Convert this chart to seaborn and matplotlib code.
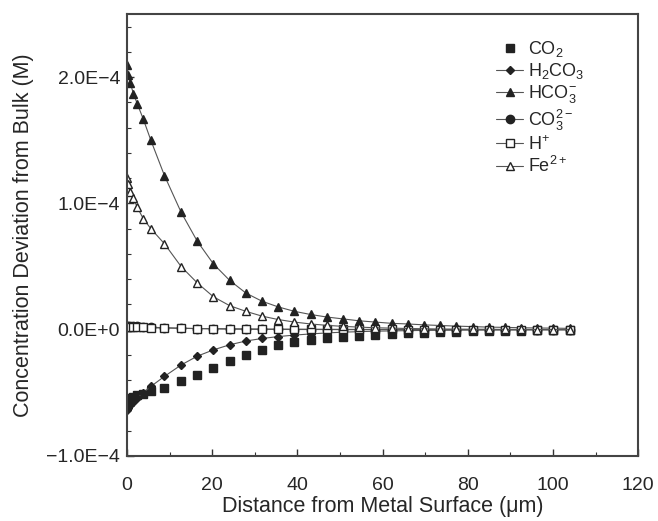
import matplotlib
matplotlib.use("Agg")
import matplotlib.pyplot as plt
import numpy as np
import pandas as pd
import seaborn as sns
from matplotlib.ticker import FixedLocator, MultipleLocator, FuncFormatter

# distance from metal surface (um)
distance = [0, 0.3, 0.8, 1.5, 2.4, 3.8, 5.6, 8.8, 12.7, 16.5, 20.3, 24.1, 27.9,
            31.7, 35.5, 39.3, 43.1, 46.9, 50.7, 54.5, 58.3, 62.1, 65.9, 69.7,
            73.5, 77.3, 81.1, 84.9, 88.7, 92.5, 96.3, 100.1, 103.9]

# concentration deviation from bulk, in units of 1e-4 M
co2 = [-0.55, -0.55, -0.54, -0.53, -0.52, -0.51, -0.49, -0.46, -0.41, -0.36,
       -0.30, -0.25, -0.20, -0.16, -0.12, -0.095, -0.08, -0.068, -0.058, -0.048,
       -0.04, -0.034, -0.028, -0.023, -0.019, -0.016, -0.013, -0.011, -0.009,
       -0.007, -0.006, -0.005, -0.004]
h2co3 = [-0.64, -0.62, -0.60, -0.57, -0.54, -0.50, -0.45, -0.37, -0.28, -0.21,
         -0.16, -0.12, -0.09, -0.07, -0.055, -0.043, -0.034, -0.026, -0.02,
         -0.016, -0.012, -0.01, -0.008, -0.006, -0.005, -0.004, -0.003, -0.003,
         -0.002, -0.002, -0.001, -0.001, -0.001]
hco3 = [2.10, 2.02, 1.95, 1.87, 1.79, 1.67, 1.50, 1.22, 0.93, 0.70, 0.52, 0.39,
        0.29, 0.225, 0.18, 0.145, 0.12, 0.10, 0.085, 0.07, 0.06, 0.05, 0.045,
        0.038, 0.033, 0.028, 0.024, 0.02, 0.018, 0.015, 0.013, 0.012, 0.01]
co3 = [0.03, 0.03, 0.028, 0.027, 0.025, 0.022, 0.019, 0.015, 0.011, 0.008,
       0.006, 0.004, 0.003, 0.002, 0.002, 0.001, 0.001, 0.001, 0.0, 0.0, 0.0,
       0.0, 0.0, 0.0, 0.0, 0.0, 0.0, 0.0, 0.0, 0.0, 0.0, 0.0, 0.0]
h_ion = [0.02, 0.02, 0.02, 0.019, 0.018, 0.017, 0.015, 0.013, 0.011, 0.009,
         0.008, 0.007, 0.006, 0.005, 0.004, 0.004, 0.003, 0.003, 0.002, 0.002,
         0.002, 0.002, 0.001, 0.001, 0.001, 0.001, 0.001, 0.001, 0.0, 0.0, 0.0,
         0.0, 0.0]
fe = [1.20, 1.15, 1.09, 1.04, 0.97, 0.88, 0.80, 0.68, 0.50, 0.37, 0.26, 0.19,
      0.145, 0.107, 0.08, 0.06, 0.045, 0.034, 0.026, 0.02, 0.015, 0.012, 0.009,
      0.007, 0.005, 0.004, 0.003, 0.003, 0.002, 0.002, 0.001, 0.001, 0.001]

labels = [r"CO$_2$", r"H$_2$CO$_3$", r"HCO$_3^{-}$", r"CO$_3^{2-}$",
          r"H$^{+}$", r"Fe$^{2+}$"]
series = [co2, h2co3, hco3, co3, h_ion, fe]

sns.set_theme(style="ticks")
plt.rcParams["font.family"] = ["Liberation Sans", "DejaVu Sans"]
plt.rcParams["mathtext.fontset"] = "custom"
plt.rcParams["mathtext.rm"] = "Liberation Sans"
plt.rcParams["mathtext.it"] = "Liberation Sans:italic"

df = pd.concat(
    [pd.DataFrame({"x": distance, "y": np.array(v) * 1e-4, "species": lab})
     for lab, v in zip(labels, series)],
    ignore_index=True,
)

styles = {
    labels[0]: dict(marker="s", mfc="#222222", ls="none"),
    labels[1]: dict(marker="D", mfc="#222222", ms=4.5),
    labels[2]: dict(marker="^", mfc="#222222"),
    labels[3]: dict(marker="o", mfc="#222222"),
    labels[4]: dict(marker="s", mfc="white"),
    labels[5]: dict(marker="^", mfc="white"),
}

fig = plt.figure(figsize=(6.58, 5.21), dpi=100)
ax = fig.add_axes([0.193, 0.125, 0.777, 0.848])

for lab in labels:
    kw = dict(ms=6, mec="#222222", color="#555555", lw=0.8, mew=1.0)
    kw.update(styles[lab])
    sub = df[df["species"] == lab]
    sns.lineplot(data=sub, x="x", y="y", ax=ax, label=lab, estimator=None,
                 sort=False, **kw)

ax.set_xlim(0, 120)
ax.set_ylim(-1e-4, 2.5e-4)
ax.xaxis.set_major_locator(MultipleLocator(20))
ax.xaxis.set_minor_locator(MultipleLocator(10))
ax.yaxis.set_major_locator(FixedLocator([-1e-4, 0, 1e-4, 2e-4]))
ax.yaxis.set_minor_locator(MultipleLocator(0.2e-4))


def fmt(v, pos):
    m = round(v / 1e-4, 1)
    if m == 0:
        return "0.0E+0"
    return f"{m:.1f}E\u22124".replace("-", "\u2212")


ax.yaxis.set_major_formatter(FuncFormatter(fmt))
ax.tick_params(which="both", direction="in", color="#333333", labelsize=14)
ax.tick_params(axis="x", pad=15)
ax.tick_params(axis="y", pad=5)
ax.tick_params(which="major", length=5, width=1)
ax.tick_params(which="minor", length=3, width=0.8)
for s in ax.spines.values():
    s.set_color("#444444")
    s.set_linewidth(1.5)

ax.set_xlabel("Distance from Metal Surface (\u03bcm)", fontsize=15.5, labelpad=2)
ax.set_ylabel("Concentration Deviation from Bulk (M)", fontsize=15.5, labelpad=9)

leg = ax.legend(loc="upper left", frameon=False, fontsize=13,
                bbox_to_anchor=(0.69, 0.98), handlelength=1.5,
                handletextpad=0.25, labelspacing=0.12)

fig.savefig("out.png", dpi=100)
